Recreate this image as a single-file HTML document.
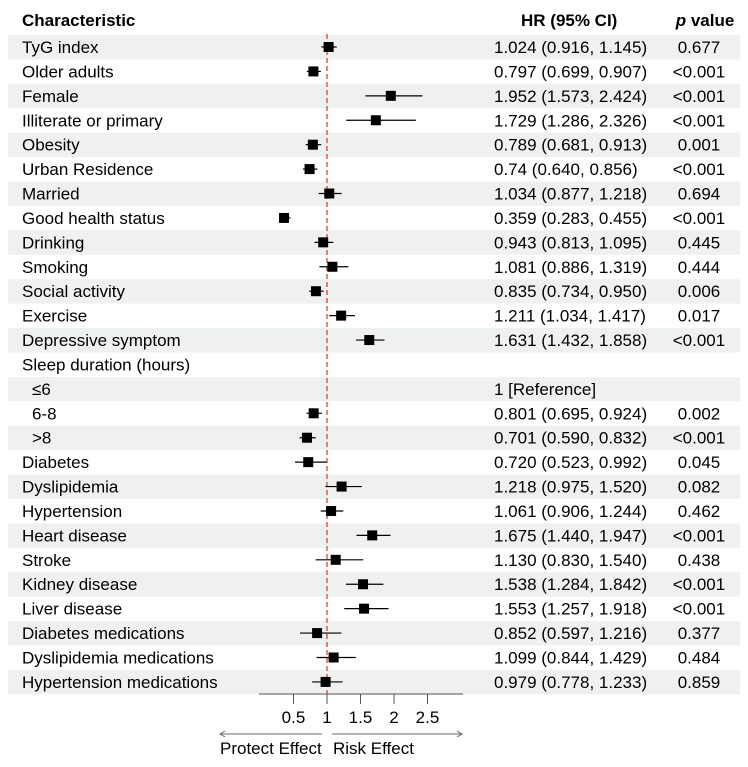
<!DOCTYPE html>
<html><head><meta charset="utf-8"><style>
body{margin:0;background:#fff;}
svg{display:block;font-family:"Liberation Sans",sans-serif;}
</style></head><body>
<svg id="c" width="748" height="767"></svg>
<script>
const labels=["TyG index","Older adults","Female","Illiterate or primary","Obesity","Urban Residence","Married","Good health status","Drinking","Smoking","Social activity","Exercise","Depressive symptom","Sleep duration (hours)","≤6","6-8",">8","Diabetes","Dyslipidemia","Hypertension","Heart disease","Stroke","Kidney disease","Liver disease","Diabetes medications","Dyslipidemia medications","Hypertension medications"];
const subItem=[0,0,0,0,0,0,0,0,0,0,0,0,0,0,1,1,1,0,0,0,0,0,0,0,0,0,0];
const hr=[1.024,0.797,1.952,1.729,0.789,0.74,1.034,0.359,0.943,1.081,0.835,1.211,1.631,null,null,0.801,0.701,0.720,1.218,1.061,1.675,1.130,1.538,1.553,0.852,1.099,0.979];
const lo=[0.916,0.699,1.573,1.286,0.681,0.640,0.877,0.283,0.813,0.886,0.734,1.034,1.432,null,null,0.695,0.590,0.523,0.975,0.906,1.440,0.830,1.284,1.257,0.597,0.844,0.778];
const hi=[1.145,0.907,2.424,2.326,0.913,0.856,1.218,0.455,1.095,1.319,0.950,1.417,1.858,null,null,0.924,0.832,0.992,1.520,1.244,1.947,1.540,1.842,1.918,1.216,1.429,1.233];
const hrText=["1.024 (0.916, 1.145)","0.797 (0.699, 0.907)","1.952 (1.573, 2.424)","1.729 (1.286, 2.326)","0.789 (0.681, 0.913)","0.74 (0.640, 0.856)","1.034 (0.877, 1.218)","0.359 (0.283, 0.455)","0.943 (0.813, 1.095)","1.081 (0.886, 1.319)","0.835 (0.734, 0.950)","1.211 (1.034, 1.417)","1.631 (1.432, 1.858)","","1 [Reference]","0.801 (0.695, 0.924)","0.701 (0.590, 0.832)","0.720 (0.523, 0.992)","1.218 (0.975, 1.520)","1.061 (0.906, 1.244)","1.675 (1.440, 1.947)","1.130 (0.830, 1.540)","1.538 (1.284, 1.842)","1.553 (1.257, 1.918)","0.852 (0.597, 1.216)","1.099 (0.844, 1.429)","0.979 (0.778, 1.233)"];
const pText=["0.677","<0.001","<0.001","<0.001","0.001","<0.001","0.694","<0.001","0.445","0.444","0.006","0.017","<0.001","","","0.002","<0.001","0.045","0.082","0.462","<0.001","0.438","<0.001","<0.001","0.377","0.484","0.859"];
const ticks=[0.5,1,1.5,2,2.5];
const NS="http://www.w3.org/2000/svg";
const svg=document.getElementById('c');
const x=v=>327+(v-1)*67;
const y=i=>47+i*24.42;
const FS=17;
function mk(t,a,txt){const e=document.createElementNS(NS,t);for(const k in a)e.setAttribute(k,a[k]);if(txt!=null)e.textContent=txt;svg.appendChild(e);return e;}
labels.forEach((l,i)=>{
  if(i%2===0){const b=mk('rect',{x:8,y:y(i)-12,width:732,height:24.4,fill:'#eef1ee'});
  
  }
});
let t;
t=mk('text',{x:22,y:26,'font-size':FS,'font-weight':'bold'},'Characteristic');

t=mk('text',{x:521,y:26,'font-size':FS,'font-weight':'bold'},'HR (95% CI)');

t=mk('text',{x:705,y:26,'font-size':FS,'font-weight':'bold','text-anchor':'middle'});
t.innerHTML='<tspan font-style="italic">p</tspan> value';

const ref=mk('line',{x1:x(1),x2:x(1),y1:34,y2:694,stroke:'#d9423c','stroke-width':1.3,'stroke-dasharray':'5,3'});

labels.forEach((l,i)=>{
  const lt=mk('text',{x:subItem[i]?32:22,y:y(i)+6,'font-size':FS},l);
  
  if(hrText[i]){const h=mk('text',{x:494,y:y(i)+6,'font-size':FS},hrText[i]);
  }
  if(pText[i]){const p=mk('text',{x:699,y:y(i)+6,'font-size':FS,'text-anchor':'middle'},pText[i]);
  }
  if(hr[i]!=null){
    const ci=mk('line',{x1:x(lo[i]),x2:x(hi[i]),y1:y(i),y2:y(i),stroke:'#000','stroke-width':1.2});
    
    const pt=mk('rect',{x:x(hr[i])-5,y:y(i)-5,width:10,height:10,fill:'#000'});
    
  }
});
const ax=mk('line',{x1:259,x2:463,y1:694,y2:694,stroke:'#555','stroke-width':1});

ticks.forEach(v=>{
  const tk=mk('line',{x1:x(v),x2:x(v),y1:694,y2:704,stroke:'#555'});
  
  const tl=mk('text',{x:x(v),y:723,'font-size':FS,'text-anchor':'middle'},String(v));
  
});
const a1=mk('path',{d:'M322,734 H220 M225,731 L220,734 L225,737',stroke:'#666',fill:'none'});

const a2=mk('path',{d:'M332,734 H462 M457,731 L462,734 L457,737',stroke:'#666',fill:'none'});

t=mk('text',{x:220,y:754,'font-size':FS},'Protect Effect');

t=mk('text',{x:333,y:754,'font-size':FS},'Risk Effect');

</script>
</body></html>
